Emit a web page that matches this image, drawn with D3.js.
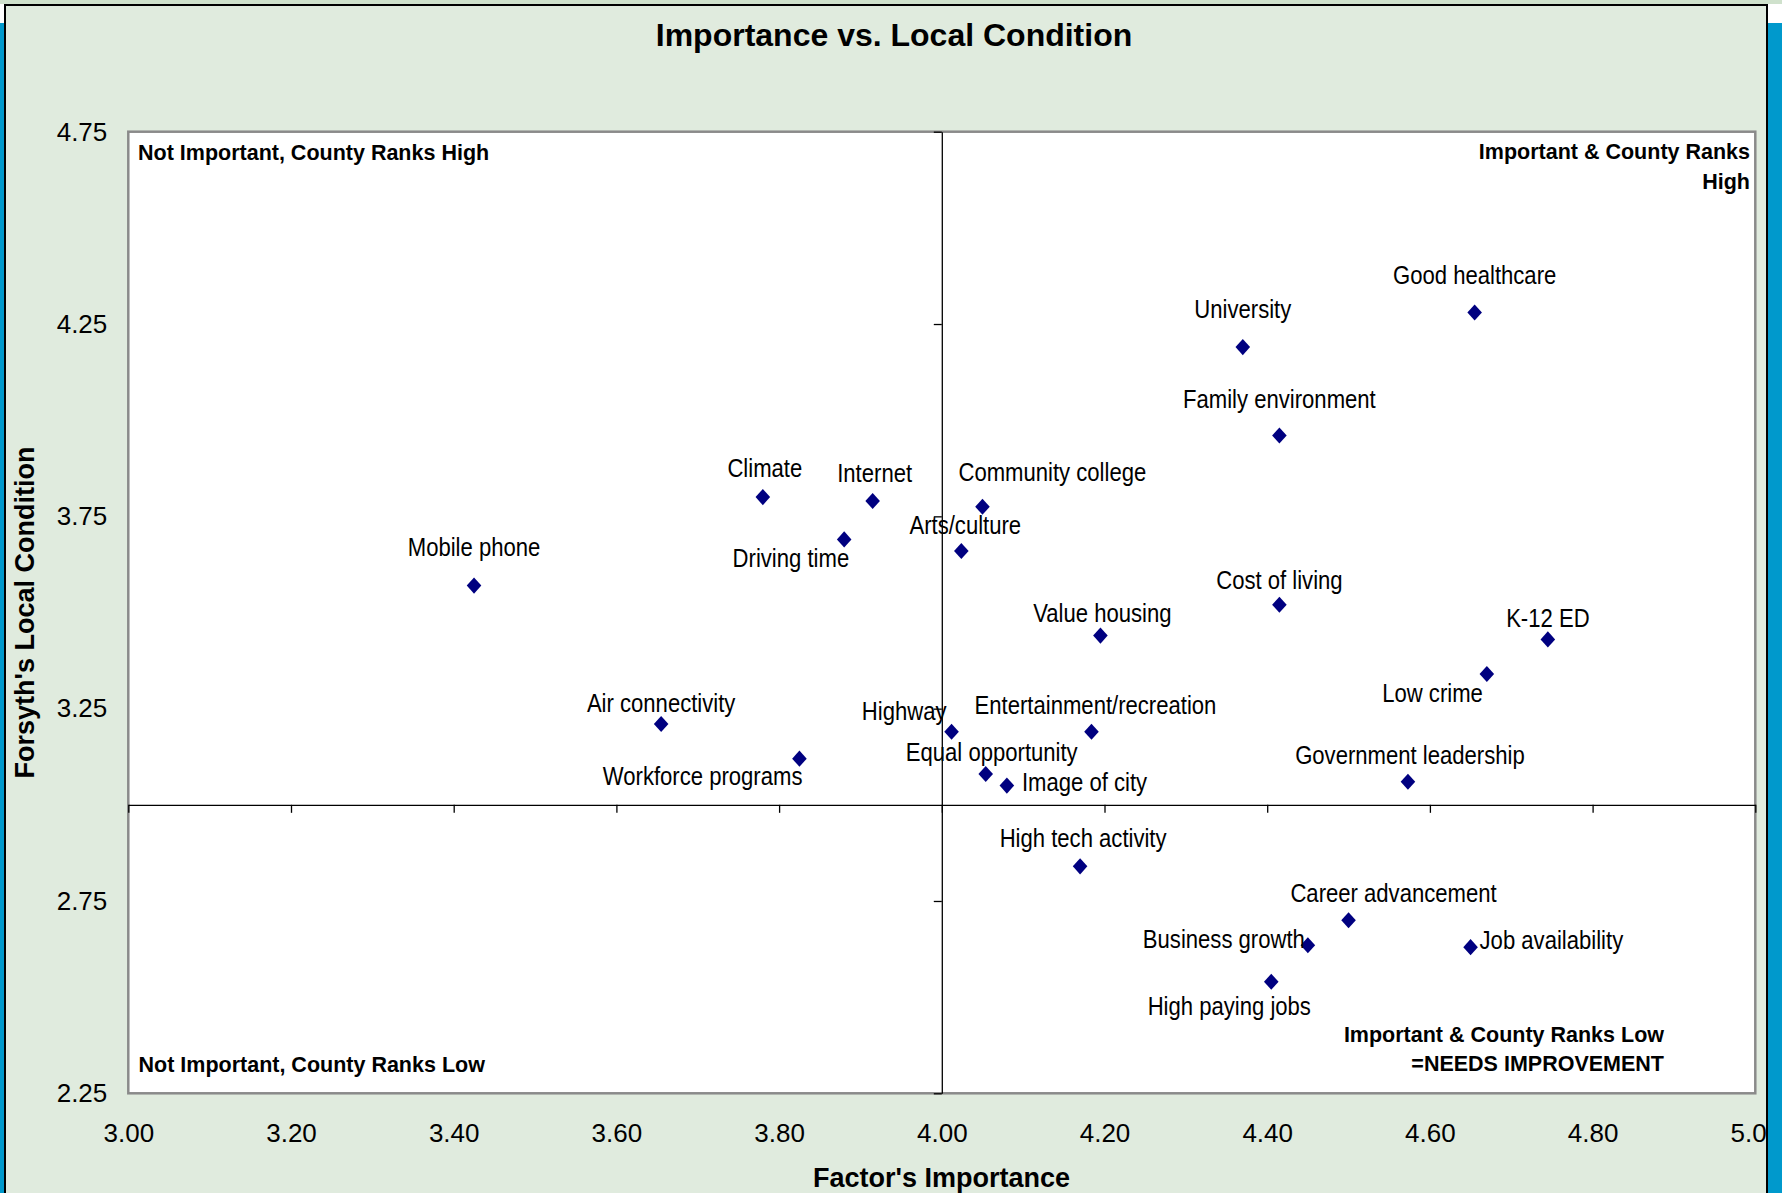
<!DOCTYPE html>
<html>
<head>
<meta charset="utf-8">
<script src="https://cdn.jsdelivr.net/npm/d3@7"></script>
<style>
  html, body { margin: 0; padding: 0; background: #0099cc; }
  svg { display: block; }
  text { font-family: "Liberation Sans", Arial, sans-serif; fill: #000; }
</style>
</head>
<body>
<script>
// ---- data ----
const factors = ["Good healthcare", "University", "Family environment", "Climate", "Internet",
  "Community college", "Driving time", "Arts/culture", "Mobile phone", "Cost of living",
  "Value housing", "K-12 ED", "Low crime", "Air connectivity", "Highway",
  "Entertainment/recreation", "Workforce programs", "Equal opportunity", "Image of city",
  "Government leadership", "High tech activity", "Career advancement", "Business growth",
  "Job availability", "High paying jobs"];
const importance = [4.655, 4.37, 4.415, 3.78, 3.915, 4.05, 3.88, 4.024, 3.425, 4.415,
  4.195, 4.745, 4.67, 3.655, 4.012, 4.184, 3.825, 4.054, 4.08, 4.573, 4.17, 4.50, 4.45, 4.65, 4.405];
const condition = [4.28, 4.19, 3.96, 3.80, 3.79, 3.775, 3.69, 3.66, 3.57, 3.52,
  3.44, 3.43, 3.34, 3.21, 3.19, 3.19, 3.12, 3.08, 3.05, 3.06, 2.84, 2.70, 2.635, 2.63, 2.54];
const xTicks = [3.0, 3.2, 3.4, 3.6, 3.8, 4.0, 4.2, 4.4, 4.6, 4.8, 5.0];
const yTicks = [2.25, 2.75, 3.25, 3.75, 4.25, 4.75];
const quadrantNotes = [
  ["Not Important, County Ranks High"],
  ["Important & County Ranks", "High"],
  ["Not Important, County Ranks Low"],
  ["Important & County Ranks Low", "=NEEDS IMPROVEMENT"]
];
const chartTitle = "Importance vs. Local Condition";
const xTitle = "Factor's Importance";
const yTitle = "Forsyth's Local Condition";

// label placement: anchor, dx, dy (to text middle) in px
const labelPlace = {
  "Mobile phone": ["middle", 0, -39], "Climate": ["middle", 2, -29], "Internet": ["middle", 2, -28],
  "Driving time": ["end", 5, 18], "Community college": ["start", -24, -35],
  "Arts/culture": ["middle", 4, -26], "University": ["middle", 0, -38],
  "Good healthcare": ["middle", 0, -38], "Family environment": ["middle", 0, -37],
  "Cost of living": ["middle", 0, -25], "Value housing": ["middle", 2, -23],
  "K-12 ED": ["middle", 0, -22], "Low crime": ["end", -4, 19], "Air connectivity": ["middle", 0, -21],
  "Workforce programs": ["end", 3, 17], "Highway": ["end", -5, -21],
  "Entertainment/recreation": ["middle", 4, -27], "Equal opportunity": ["middle", 6, -22],
  "Image of city": ["start", 15, -4], "Government leadership": ["middle", 2, -27],
  "High tech activity": ["middle", 3, -28], "Career advancement": ["middle", 45, -27],
  "Business growth": ["end", -3, -6], "Job availability": ["start", 9, -7],
  "High paying jobs": ["middle", -42, 24]
};

const W = 1782, H = 1193;
const plot = {left: 128.3, right: 1755.3, top: 131.7, bottom: 1093.3};

const svg = d3.select("body").append("svg").attr("width", W).attr("height", H);

// page + chart background
svg.append("rect").attr("x", 0).attr("y", 0).attr("width", W).attr("height", H).attr("fill", "#0099cc");
svg.append("rect").attr("x", 0).attr("y", 0).attr("width", W).attr("height", 23).attr("fill", "#ffffff");
svg.append("rect").attr("x", 0).attr("y", 0).attr("width", W).attr("height", 4).attr("fill", "#cfe1cc");
svg.append("rect").attr("x", 5).attr("y", 5).attr("width", 1762).attr("height", H + 10)
  .attr("fill", "#e0ebde").attr("stroke", "#000").attr("stroke-width", 2);

const x = d3.scaleLinear().domain([3, 5]).range([plot.left, plot.right]);
const y = d3.scaleLinear().domain([2.25, 4.75]).range([plot.bottom, plot.top]);

// plot area
svg.append("rect").attr("x", plot.left).attr("y", plot.top)
  .attr("width", plot.right - plot.left).attr("height", plot.bottom - plot.top)
  .attr("fill", "#fff").attr("stroke", "#8a8a8a").attr("stroke-width", 2.5);

// crossing axes with tick marks (x crosses at 3.0, y crosses at 4.0)
const xCross = svg.append("g").attr("transform", "translate(0," + y(3.0) + ")")
  .call(d3.axisBottom(x).tickValues(xTicks).tickSize(8).tickFormat("").tickSizeOuter(0));
const yCross = svg.append("g").attr("transform", "translate(" + x(4.0) + ",0)")
  .call(d3.axisLeft(y).tickValues(yTicks).tickSize(8).tickFormat("").tickSizeOuter(0));
[xCross, yCross].forEach(g => {
  g.select(".domain").attr("stroke", "#000").attr("stroke-width", 1.3);
  g.selectAll(".tick line").attr("stroke", "#000").attr("stroke-width", 1.3);
});

// tick labels at the low side of the plot
const xLab = svg.append("g").attr("transform", "translate(0," + plot.bottom + ")")
  .call(d3.axisBottom(x).tickValues(xTicks).tickSize(0).tickPadding(30).tickFormat(d3.format(".2f")));
const yLab = svg.append("g").attr("transform", "translate(" + plot.left + ",0)")
  .call(d3.axisLeft(y).tickValues(yTicks).tickSize(0).tickPadding(21).tickFormat(d3.format(".2f")));
[xLab, yLab].forEach(g => {
  g.select(".domain").remove();
  g.selectAll("text").attr("font-family", "'Liberation Sans', Arial, sans-serif")
    .attr("font-size", 26).attr("fill", "#000");
});

// quadrant notes
const noteFont = {size: 21.5, weight: "bold"};
function note(lines, px, py, anchor, gap) {
  lines.forEach((t, i) => {
    svg.append("text").attr("x", px).attr("y", py + i * gap)
      .attr("text-anchor", anchor).attr("font-size", noteFont.size)
      .attr("font-weight", noteFont.weight).text(t);
  });
}
note(quadrantNotes[0], 138, 160, "start", 30);
note(quadrantNotes[1], 1750, 159, "end", 30);
note(quadrantNotes[2], 138.5, 1072, "start", 30);
note(quadrantNotes[3], 1664, 1042, "end", 29);

// points
const pts = factors.map((f, i) => ({name: f, imp: importance[i], cond: condition[i]}));
svg.append("g").selectAll("path").data(pts).join("path")
  .attr("d", d3.symbol(d3.symbolDiamond2, 150))
  .attr("transform", d => "translate(" + x(d.imp) + "," + y(d.cond) + ") scale(0.95,1.05)")
  .attr("fill", "#000080");

// point labels (narrow face emulated by squeezing Liberation Sans)
const labelSize = 25.5;
const lbl = svg.append("g").selectAll("text").data(pts).join("text")
  .attr("x", d => x(d.imp) + labelPlace[d.name][1])
  .attr("y", d => y(d.cond) + labelPlace[d.name][2] + labelSize * 0.358)
  .attr("text-anchor", d => labelPlace[d.name][0])
  .attr("font-size", labelSize)
  .text(d => d.name);
lbl.each(function() {
  const w = this.getComputedTextLength();
  d3.select(this).attr("textLength", w * 0.866).attr("lengthAdjust", "spacingAndGlyphs");
});

// titles
svg.append("text").attr("x", 894).attr("y", 46).attr("text-anchor", "middle")
  .attr("font-size", 32).attr("font-weight", "bold").text(chartTitle);
svg.append("text").attr("x", 941.5).attr("y", 1187).attr("text-anchor", "middle")
  .attr("font-size", 27).attr("font-weight", "bold").text(xTitle);
svg.append("text").attr("transform", "translate(34," + ((plot.top + plot.bottom) / 2) + ") rotate(-90)")
  .attr("text-anchor", "middle").attr("font-size", 27).attr("font-weight", "bold").text(yTitle);

// right edge of the frame drawn last (clips the last tick label)
svg.append("rect").attr("x", 1768).attr("y", 23).attr("width", W - 1768).attr("height", H).attr("fill", "#0099cc");
svg.append("rect").attr("x", 1768).attr("y", 4).attr("width", W - 1768).attr("height", 19).attr("fill", "#fff");
svg.append("line").attr("x1", 1767).attr("x2", 1767).attr("y1", 4).attr("y2", H).attr("stroke", "#000").attr("stroke-width", 2);
</script>
</body>
</html>
